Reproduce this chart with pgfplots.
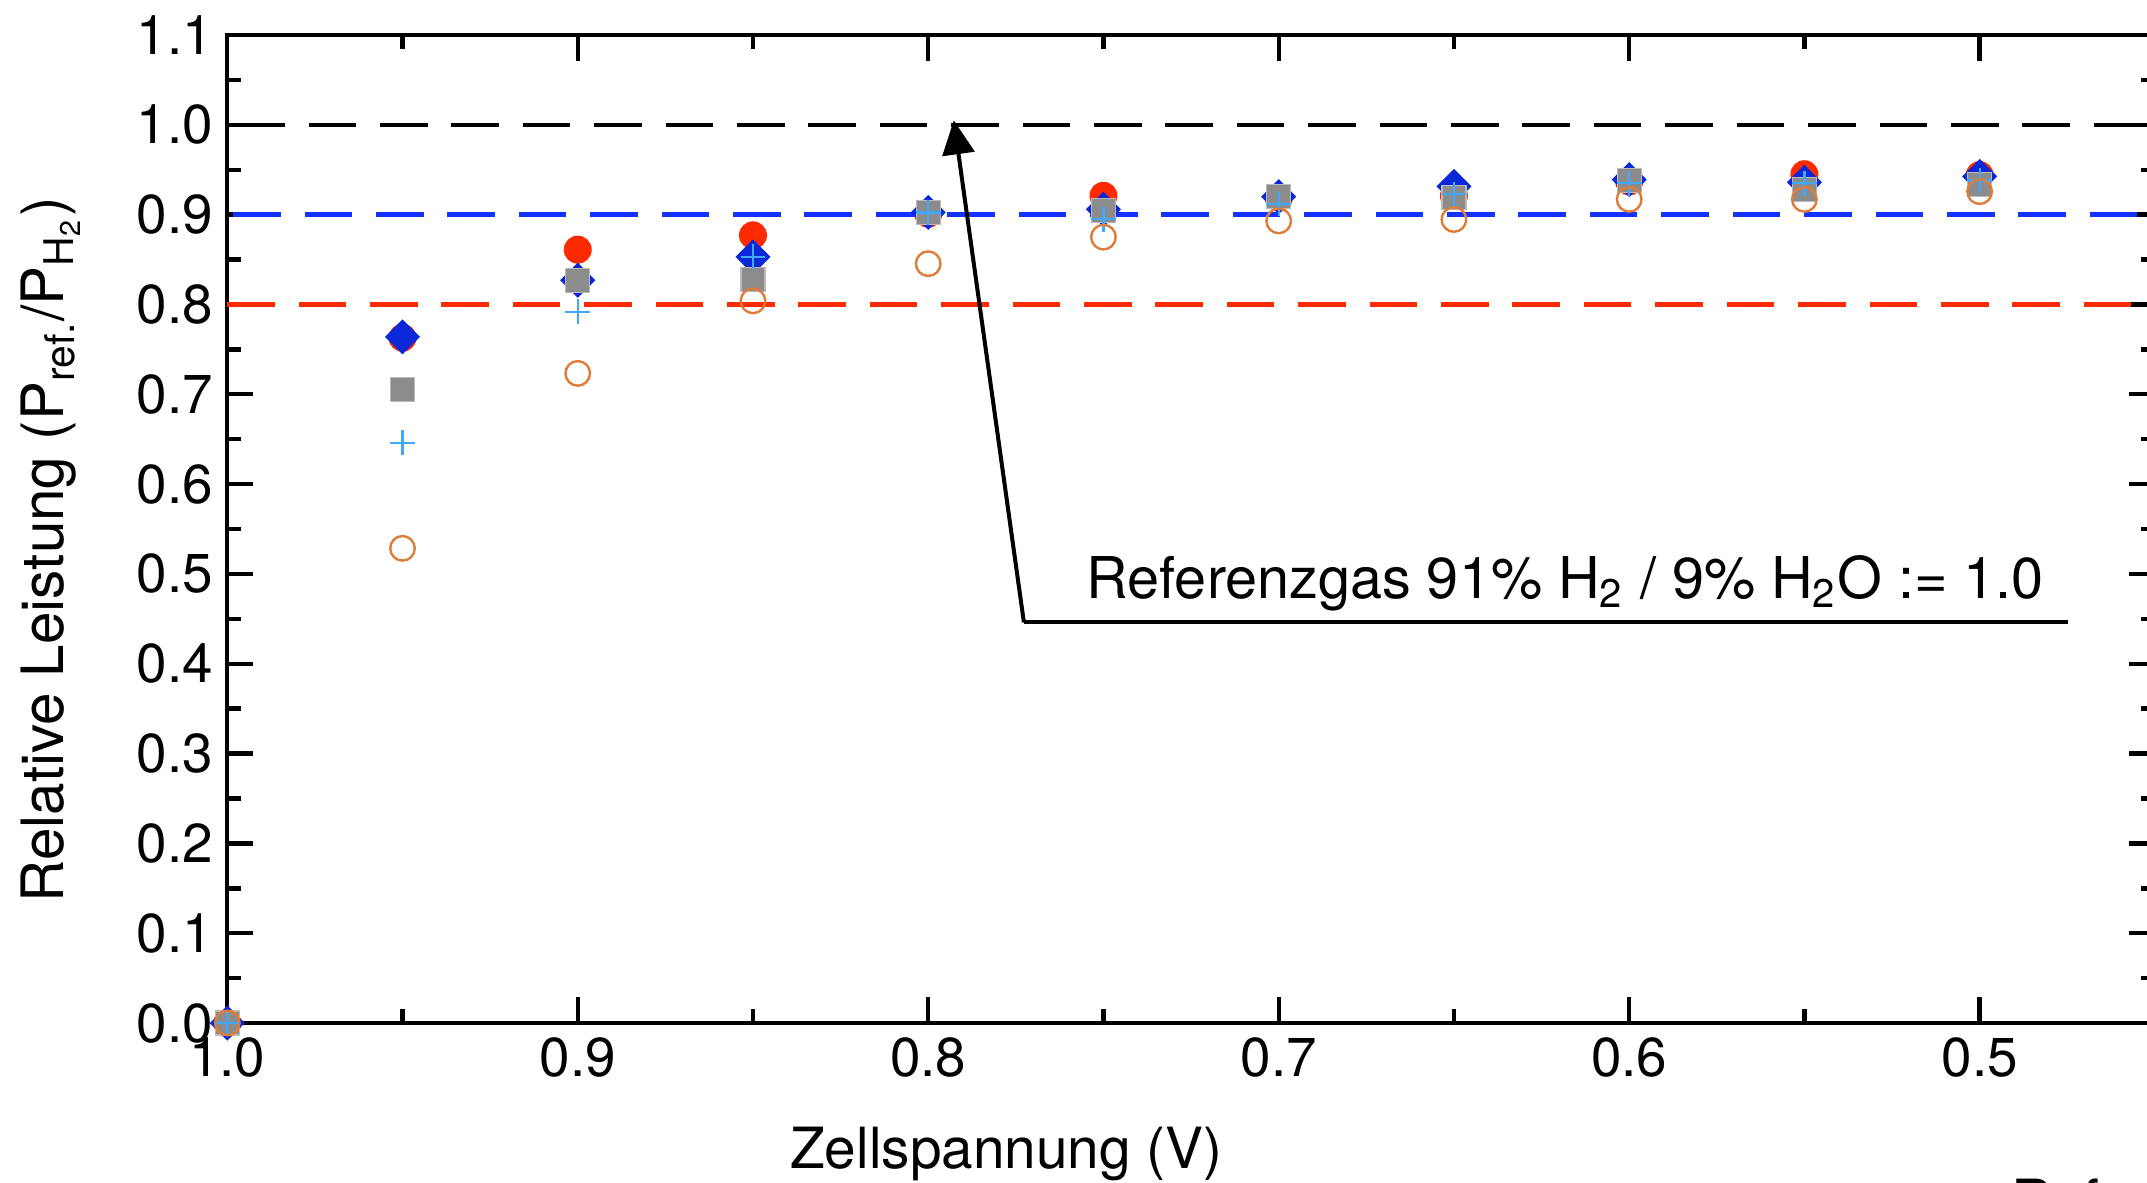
\documentclass[border=0pt]{standalone}
\usepackage{fontspec}
\setmainfont{TeX Gyre Heros}
\usepackage{pgfplots}
\pgfplotsset{compat=1.18}
\usetikzlibrary{arrows.meta}
\definecolor{pred}{HTML}{FF2A00}
\definecolor{dblue}{HTML}{0A28D8}
\definecolor{lineblue}{HTML}{1432FF}
\definecolor{mgray}{HTML}{8C8C8C}
\definecolor{lblue}{HTML}{40A8FF}
\definecolor{oran}{HTML}{DE7C3A}
\newcommand{\tickfont}{\fontsize{13.7pt}{16pt}\selectfont}
\newcommand{\labfont}{\fontsize{14.2pt}{17pt}\selectfont}
\newcommand{\annfont}{\fontsize{14.4pt}{17pt}\selectfont}
\newcommand{\ylabfont}{\fontsize{14.6pt}{17pt}\selectfont}

\begin{document}
\begin{tikzpicture}
\begin{axis}[
    scale only axis,
    width=481.9pt, height=247pt,
    x dir=reverse,
    xmin=0.45, xmax=1.0,
    ymin=0, ymax=1.1,
    xtick={0.5,0.6,0.7,0.8,0.9,1.0},
    ytick={0,0.1,0.2,0.3,0.4,0.5,0.6,0.7,0.8,0.9,1.0,1.1},
    minor x tick num=1, minor y tick num=1,
    tick align=inside,
    major tick length=6.5pt, minor tick length=3.5pt,
    axis line style={line width=1.1pt},
    tick style={black, line width=1.1pt},
    ticklabel style={font=\tickfont},
    /pgf/number format/assume math mode=true,
    xticklabel style={/pgf/number format/.cd, fixed, fixed zerofill, precision=1},
    yticklabel style={/pgf/number format/.cd, fixed, fixed zerofill, precision=1},
    clip=false,
]
% red filled circles
\addplot[only marks, mark=*, mark size=3.3pt, color=pred] coordinates {
    (1.0,0) (0.95,0.763) (0.9,0.861) (0.85,0.877) (0.8,0.901) (0.75,0.921)
    (0.7,0.919) (0.65,0.921) (0.6,0.937) (0.55,0.945) (0.5,0.944)
};
% blue diamonds
\addplot[only marks, mark=square*, mark size=2.9pt, mark options={rotate=45}, color=dblue] coordinates {
    (1.0,0) (0.95,0.764) (0.9,0.827) (0.85,0.853) (0.8,0.9025) (0.75,0.906)
    (0.7,0.920) (0.65,0.9315) (0.6,0.939) (0.55,0.936) (0.5,0.9426)
};
% gray squares
\addplot[only marks, mark=square*, mark size=3pt, color=mgray, mark options={draw=mgray!60!white, line width=0.3pt}] coordinates {
    (1.0,0) (0.95,0.705) (0.9,0.827) (0.85,0.828) (0.8,0.9025) (0.75,0.905)
    (0.7,0.920) (0.65,0.919) (0.6,0.938) (0.55,0.928) (0.5,0.934)
};
% light blue plus
\addplot[only marks, mark=+, mark size=3.1pt, color=lblue, mark options={line width=0.55pt}] coordinates {
    (1.0,0) (0.95,0.646) (0.9,0.792) (0.85,0.853) (0.8,0.9025) (0.75,0.895)
    (0.7,0.912) (0.65,0.923) (0.6,0.935) (0.55,0.935) (0.5,0.938)
};
% orange open circles
\addplot[only marks, mark=o, mark size=3.07pt, color=oran, mark options={fill=white, line width=0.6pt}] coordinates {
    (1.0,0) (0.95,0.5285) (0.9,0.7233) (0.85,0.804) (0.8,0.8454) (0.75,0.875)
    (0.7,0.893) (0.65,0.8946) (0.6,0.917) (0.55,0.917) (0.5,0.9256)
};
% reference lines
\addplot[black, line width=1.05pt, dash pattern=on 11.9pt off 5.95pt, dash phase=15.35pt] coordinates {(1.0,1.0) (0.45,1.0)};
\addplot[lineblue, line width=1.1pt, dash pattern=on 11.9pt off 5.95pt, dash phase=16.35pt] coordinates {(1.0,0.9) (0.45,0.9)};
\addplot[pred, line width=1.1pt, dash pattern=on 11.9pt off 5.95pt] coordinates {(1.0,0.8) (0.45,0.8)};

\draw[line width=1pt, -{Triangle[length=8.5pt, width=8pt]}] (axis cs:0.7727,0.446) -- (axis cs:0.7927,1.005);
\draw[line width=1pt] (axis cs:0.7727,0.446) -- (axis cs:0.4748,0.446);
\node[anchor=base west, inner sep=0, font=\annfont] at (axis cs:0.755,0.4727)
    {Referenzgas 91\% H\textsubscript{2} / 9\% H\textsubscript{2}O := 1.0};

\node[rotate=90, anchor=base, inner sep=0, font=\ylabfont] at (axis cs:1.0466,0.5268)
    {Relative Leistung (P\textsubscript{ref.}/P\textsubscript{H\textsubscript{2}})};
\node[anchor=base, inner sep=0, font=\labfont] at (axis cs:0.7777,-0.1614) {Zellspannung (V)};
\node[anchor=base west, inner sep=0, font=\labfont] at (axis cs:0.4911,-0.2193) {Referenz};

\coordinate (sw) at (axis cs:1.0,0);
\end{axis}
\pgfresetboundingbox
\path[use as bounding box] ([shift={(-56.825pt,-39.75pt)}]sw) rectangle ++(536.75pt,295.5pt);
\end{tikzpicture}
\end{document}
